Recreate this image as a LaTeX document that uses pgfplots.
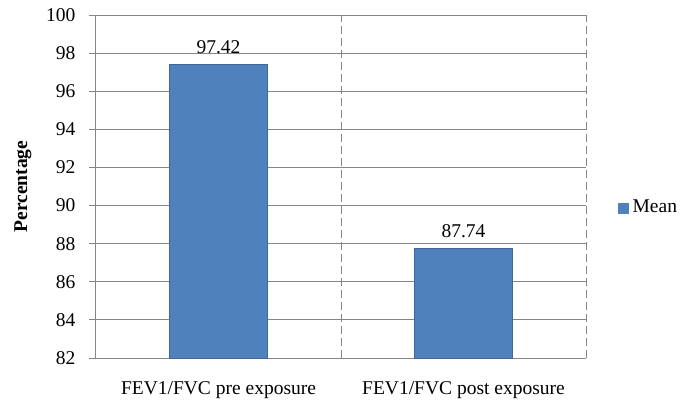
\documentclass[border=0pt]{standalone}
\usepackage{pgfplots}
\pgfplotsset{compat=1.18}
\usepackage{fontspec}
\setmainfont{Liberation Serif}
\definecolor{barblue}{HTML}{4F81BD}
\definecolor{gridgray}{HTML}{868686}
\begin{document}
\fontsize{19.5}{22}\selectfont
\begin{tikzpicture}
\useasboundingbox (0pt,0pt) rectangle (691pt,400pt);
\begin{axis}[
  at={(96pt,42pt)}, anchor=south west,
  scale only axis, width=490pt, height=343pt,
  ybar, bar width=0.4,
  xmin=-0.5, xmax=1.5, ymin=82, ymax=100,
  ytick={82,84,...,100},
  xtick={0,1},
  xticklabels={FEV1/FVC pre exposure, FEV1/FVC post exposure},
  minor xtick={0.5,1.5},
  xminorgrids=true,
  minor x grid style={gridgray, line width=1pt, dash pattern=on 8pt off 4pt},
  ymajorgrids=true,
  major y grid style={gridgray, line width=1pt},
  axis x line*=bottom, axis y line*=left,
  axis line style={gridgray, line width=1pt, -},
  tick align=outside,
  ytick style={gridgray, line width=1pt},
  major tick length=7pt,
  xtick style={draw=none},
  xticklabel style={yshift=-10pt},
  yticklabel style={xshift=-7pt},
  /pgf/number format/assume math mode=true,
  yticklabel={\pgfmathprintnumber{\tick}},
  ylabel={\bfseries Percentage},
  every axis y label/.style={at={(axis description cs:-0.149,0.5)}, anchor=center, rotate=90},
  nodes near coords,
  nodes near coords style={/pgf/number format/.cd, fixed, fixed zerofill, precision=2, /tikz/.cd, anchor=south, yshift=4pt, text=black},
  legend style={at={(1,0.5)}, anchor=west, xshift=29pt, yshift=-21.5pt, draw=none, fill=none,
    nodes={inner xsep=4pt}},
  legend image code/.code={\fill[barblue] (0pt,-5pt) rectangle (10pt,5pt);},
  clip=false,
]
\addplot[fill=barblue, draw=barblue!80!black, line width=0.4pt] coordinates {(0,97.42) (1,87.74)};
\addlegendentry{Mean}
\end{axis}
\end{tikzpicture}
\end{document}
